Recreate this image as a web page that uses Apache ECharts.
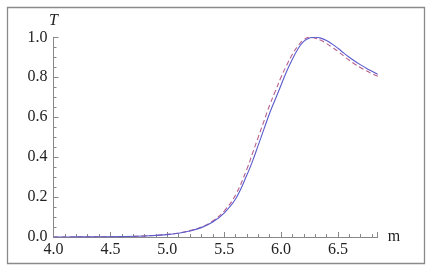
<!DOCTYPE html>
<html><head><meta charset="utf-8">
<script src="https://cdn.jsdelivr.net/npm/echarts@6/dist/echarts.min.js"></script>
<style>html,body{margin:0;padding:0;background:#fff}#c{width:431px;height:272px}</style>
</head><body><div id="c"></div>
<script>
var mValues = [4.0,4.2,4.4,4.6,4.8,5.0,5.1,5.2,5.3,5.4,5.5,5.6,5.7,5.75,5.8,5.85,5.9,5.95,6.0,6.05,6.1,6.15,6.2,6.25,6.3,6.35,6.4,6.45,6.5,6.55,6.6,6.65,6.7,6.75,6.8,6.85];
var solidT = [0.0,0.0005,0.001,0.002,0.005,0.012,0.019,0.03,0.047,0.075,0.12,0.19,0.31,0.38,0.46,0.54,0.62,0.69,0.76,0.83,0.89,0.943,0.98,0.996,1.0,0.996,0.984,0.966,0.945,0.922,0.90,0.88,0.862,0.845,0.83,0.815];
var dashedT = [0.0,0.0005,0.001,0.002,0.005,0.013,0.02,0.032,0.05,0.08,0.13,0.21,0.34,0.42,0.50,0.58,0.66,0.73,0.80,0.86,0.915,0.958,0.988,1.0,0.996,0.985,0.969,0.95,0.93,0.907,0.885,0.865,0.848,0.832,0.818,0.805];
var xTickLabels = ['4.0','4.5','5.0','5.5','6.0','6.5'];
var yTickLabels = ['0.0','0.2','0.4','0.6','0.8','1.0'];

function pairs(xs, ys){ return xs.map(function(x,i){return [x, ys[i]];}); }
var FONT = '"Times New Roman", "Liberation Serif", serif';
var chart = echarts.init(document.getElementById('c'), null, {renderer:'canvas'});
var grid = {left:53.5, right:53.3, top:37.3, bottom:35};
chart.setOption({
  animation:false,
  grid: grid,
  graphic:[{type:'rect', shape:{x:7.5,y:7.5,width:417,height:256}, style:{fill:'none', stroke:'#8a8a8a', lineWidth:1.3}, z:-1}],
  xAxis:[{
    type:'value', min:4, max:6.85, interval:0.1,
    name:'m', nameLocation:'end', nameGap:10,
    nameTextStyle:{fontFamily:FONT, fontSize:16, color:'#222', verticalAlign:'middle'},
    axisLine:{lineStyle:{color:'#888', width:1}},
    axisTick:{inside:true, length:3, lineStyle:{color:'#888'}},
    splitLine:{show:false},
    axisLabel:{interval:0, margin:5, fontFamily:FONT, fontSize:16, color:'#222', showMaxLabel:false,
      formatter:function(v){ var k=Math.round((v-4)*2); if(Math.abs((v-4)*2-k)<1e-6 && k>=0 && k<xTickLabels.length) return xTickLabels[k]; return ''; }}
  },{
    type:'value', min:4, max:6.85, interval:0.5, position:'bottom',
    axisLine:{show:false},
    axisTick:{inside:true, length:5, lineStyle:{color:'#888'}},
    axisLabel:{show:false}, splitLine:{show:false}
  }],
  yAxis:[{
    type:'value', min:0, max:1, interval:0.2,
    name:'T', nameLocation:'end', nameGap:9,
    nameTextStyle:{fontFamily:FONT, fontSize:16, fontStyle:'italic', color:'#222', align:'center'},
    axisLine:{show:true, lineStyle:{color:'#888', width:1}},
    axisTick:{show:true, inside:true, length:5, lineStyle:{color:'#888'}},
    minorTick:{show:true, splitNumber:4, length:3, lineStyle:{color:'#888'}},
    splitLine:{show:false},
    axisLabel:{margin:6, fontFamily:FONT, fontSize:16, color:'#222',
      formatter:function(v){ var k=Math.round(v*5); return yTickLabels[k]; }}
  }],
  series:[{
    type:'line', data:pairs(mValues, solidT), smooth:0.4, showSymbol:false, xAxisIndex:0,
    lineStyle:{color:'#5b5bcc', width:1.1}, z:3
  },{
    type:'line', data:pairs(mValues, dashedT), smooth:0.4, showSymbol:false, xAxisIndex:0,
    lineStyle:{color:'#b8608e', width:1.1, type:[5,3]}, z:2
  }]
});
</script></body></html>
